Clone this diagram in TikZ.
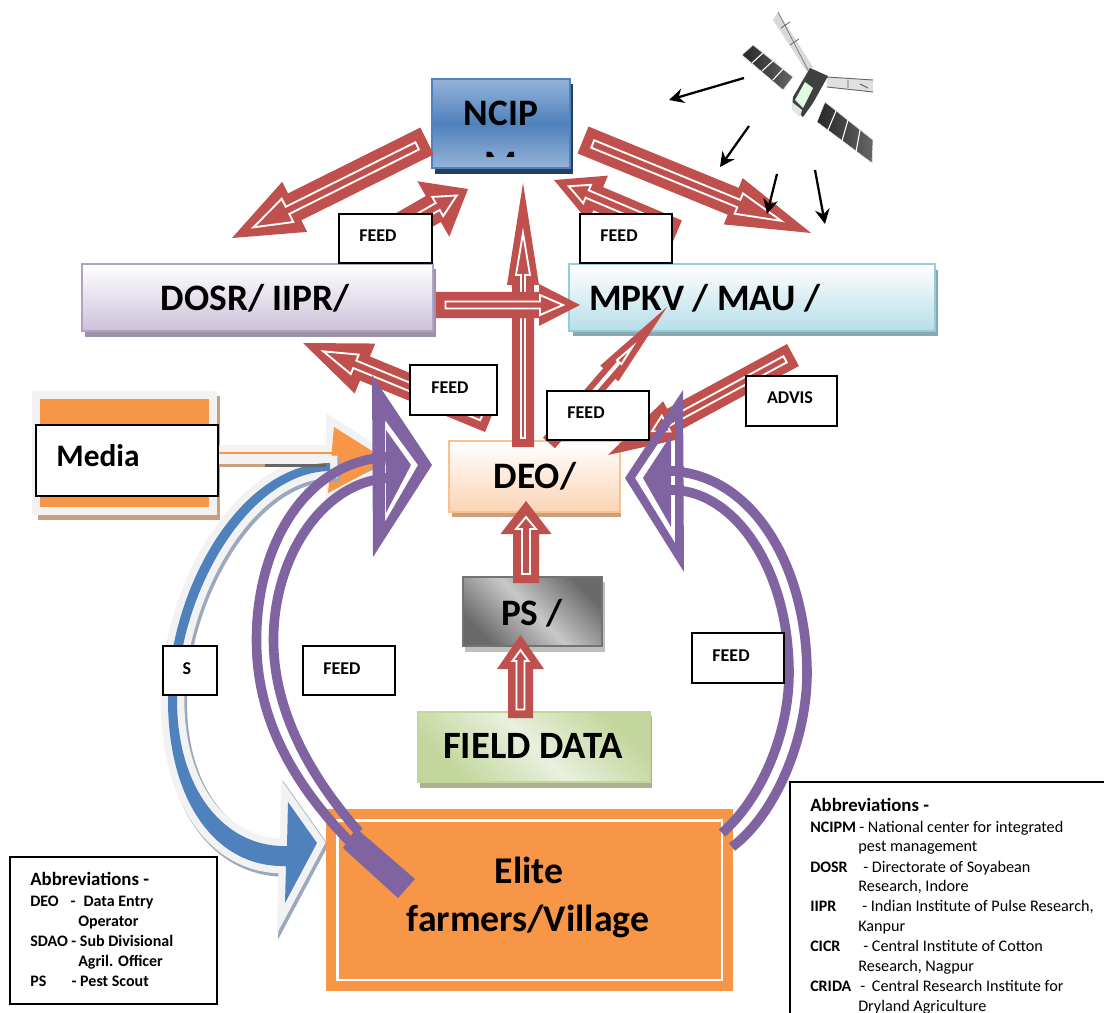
\documentclass[tikz,border=0pt]{standalone}
\usepackage{fontspec}
\setmainfont{Carlito}
\usetikzlibrary{calc,arrows.meta}
\definecolor{redc}{HTML}{C0504D}
\definecolor{purc}{HTML}{8064A2}
\definecolor{bluc}{HTML}{4F81BD}
\definecolor{orac}{HTML}{F79646}
\definecolor{palec}{HTML}{F2F2F2}
\definecolor{brnc}{HTML}{C9A07E}
\definecolor{navyc}{HTML}{244061}
\definecolor{ltbl}{HTML}{95B3D7}
\definecolor{dsh}{HTML}{9C93A8}
\definecolor{dbd}{HTML}{B2A1C7}
\definecolor{dbt}{HTML}{CCC1DA}
\definecolor{msh}{HTML}{8AA8B0}
\definecolor{mbd}{HTML}{92CDDC}
\definecolor{mbt}{HTML}{B7DEE8}
\definecolor{ebd}{HTML}{FAC08F}
\definecolor{ebt}{HTML}{FBD4B4}
\definecolor{fgr}{HTML}{C3D69B}
\definecolor{flt}{HTML}{E9F0DE}
\definecolor{fsh}{HTML}{A9B48E}
\definecolor{bsh}{HTML}{9AA9BB}
\definecolor{psd}{HTML}{6A6A6A}
\definecolor{psl}{HTML}{C8C8C8}
\tikzset{
  big/.style={font=\bfseries\fontsize{28}{30}\selectfont,inner sep=0pt,text=black},
  lbl/.style={draw=black,fill=white,line width=1.5pt},
  lbltext/.style={font=\bfseries\fontsize{13.5}{15}\selectfont,inner sep=0pt},
  abhead/.style={anchor=base west,font=\bfseries\fontsize{14.1}{16}\selectfont,inner sep=0pt},
  abb/.style={anchor=base west,font=\bfseries\fontsize{12}{14}\selectfont,inner sep=0pt},
  abr/.style={anchor=base west,font=\fontsize{12.15}{14}\selectfont,inner sep=0pt},
  band/.style={draw=purc,line width=7.2pt,line cap=butt},
  sat/.style={-{Stealth[length=11pt,width=11pt]},line width=1.7pt,black},
  panel/.style={draw=white,line width=.4pt,left color=black!85,right color=black!60},
}
\newcommand{\bx}[6]{%
  \pgfmathsetmacro\cx{(#3+#5)/2}\pgfmathsetmacro\cy{(#4+#6)/2}%
  \pgfmathsetlengthmacro\bw{(#5-#3)*.75pt}\pgfmathsetlengthmacro\bh{(#6-#4)*.75pt}%
  \node[#1,minimum width=\bw,minimum height=\bh,inner sep=0pt,outer sep=0pt] (#2) at (\cx,\cy) {};}
\newcommand{\rarrow}[9]{%
  \pgfmathsetlengthmacro\Asw{#3*.75pt}\pgfmathsetlengthmacro\Ahw{#4*.75pt}\pgfmathsetlengthmacro\Ahl{#5*.75pt}%
  \pgfmathsetlengthmacro\Bsw{#6*.75pt}\pgfmathsetlengthmacro\Bhw{#7*.75pt}\pgfmathsetlengthmacro\Bit{#8*.75pt}%
  \pgfmathsetlengthmacro\Bhl{#9*.75pt}\pgfmathsetlengthmacro\Bti{(#3-#6)*.75pt}%
  \coordinate (tH) at ($(#2)!\Ahl!(#1)$);
  \coordinate (tA) at ($(#1)!\Bti!(#2)$);
  \coordinate (tT) at ($(#2)!\Bit!(#1)$);
  \coordinate (tI) at ($(tT)!\Bhl!(#1)$);
  \fill[redc] ($(#1)!\Asw!90:(#2)$) -- ($(tH)!\Asw!90:(#2)$) -- ($(tH)!\Ahw!90:(#2)$) -- (#2)
     -- ($(tH)!\Ahw!-90:(#2)$) -- ($(tH)!\Asw!-90:(#2)$) -- ($(#1)!\Asw!-90:(#2)$) -- cycle;
  \draw[white,line width=1.4pt] ($(tA)!\Bsw!90:(#2)$) -- ($(tI)!\Bsw!90:(#2)$) -- ($(tI)!\Bhw!90:(#2)$) -- (tT)
     -- ($(tI)!\Bhw!-90:(#2)$) -- ($(tI)!\Bsw!-90:(#2)$) -- ($(tA)!\Bsw!-90:(#2)$) -- cycle;
}
\begin{document}
\begin{tikzpicture}[x=.75pt,y=-.75pt]
\path[use as bounding box] (0,0) rectangle (1104,1013);
\clip (0,0) rectangle (1104,1013);
\fill[white] (0,0) rectangle (1104,1013);

% Media backing
\fill[brnc] (38,396) rectangle (220,520);
\fill[palec] (32,391) rectangle (217,515);
\fill[orac] (40,399) rectangle (209,507);

% orange arrow
\fill[brnc] (217,447) rectangle (326,467);
\fill[palec] (217,445) -- (326,445) -- (326,413) -- (402,462) -- (326,505) -- (326,464) -- (217,464) -- cycle;
\fill[orac] (217,452) rectangle (334,454);
\fill[orac] (334,427) -- (388,461) -- (328,493) -- cycle;

% blue arrow
\def\bluepath{(330,463) .. controls (240,463) and (168,590) .. (168,700) .. controls (168,800) and (215,868) .. (286,866) -- (285,903) -- (317,843) -- (288,802) -- (287,846) .. controls (225,848) and (177,790) .. (177,700) .. controls (177,600) and (245,472) .. (330,471) -- cycle}
\draw[bsh,line width=12pt,xshift=1.5pt,yshift=-2pt] \bluepath;
\draw[palec,line width=11pt] \bluepath;
\fill[bluc] \bluepath;
\fill[black!60] (265,464) rectangle (326,467);
\fill[brnc] (217,464) rectangle (265,466);

% boxes
\fill[navyc] (435,84) rectangle (573,174);
\bx{draw=bluc,line width=2pt,top color=ltbl,bottom color=ltbl,middle color=bluc}{ncip}{432}{79}{570}{168}
\fill[dsh] (85,269) rectangle (436,337);
\bx{draw=dbd,line width=2.2pt,top color=white,bottom color=dbt}{dosr}{82}{264}{433}{331}
\fill[msh] (573,270) rectangle (938,336);
\bx{draw=mbd,line width=2.2pt,top color=white,bottom color=mbt}{mpkv}{569}{264}{935}{331}
\fill[brnc] (452,445) rectangle (621,517);
\bx{draw=ebd,line width=2.2pt,top color=white,bottom color=ebt}{deo}{449}{441}{620}{512}
\fill[black!25] (465,582) rectangle (605,652);
\bx{draw=black!55,line width=1.8pt,top color=psd,bottom color=psd,middle color=psl,shading angle=-45}{ps}{463}{577}{602}{646}
\fill[fsh] (420,716) rectangle (652,788);
\bx{draw=fgr,line width=2.2pt,top color=fgr,bottom color=fgr,middle color=flt,shading angle=-45}{field}{418}{712}{650}{782}
\bx{fill=orac,draw=none}{elite}{326}{809}{733}{991}
\draw[white,line width=2.2pt] (337.5,820.5) rectangle (722,980);

% box texts
\begin{scope}
\clip (470,150) rectangle (530,157);
\node[big] (ncipM) at (501,164.5) {M};
\end{scope}
\node[big] (ncipT) at (501,113) {NCIP};
\node[big] (dosrT) at (255,298) {DOSR/ IIPR/};
\node[big] (mpkvT) at (705,298) {MPKV / MAU /};
\node[big] (deoT) at (535,476) {DEO/};
\node[big] (psT) at (532,613) {PS /};
\node[big,font=\bfseries\fontsize{29}{30}\selectfont] (fieldT) at (533,746) {FIELD DATA};
\node[big,font=\bfseries\fontsize{28.3}{30}\selectfont] (eliteA) at (529,870) {Elite};
\node[big,font=\bfseries\fontsize{28.3}{30}\selectfont] (eliteB) at (528,921) {farmers/Village};

% red arrows: named ends
\coordinate (r1a) at (427,141);  \coordinate (r1b) at (232,238);
\coordinate (r2a) at (390,234);  \coordinate (r2b) at (468,189);
\coordinate (r3a) at (583,140);  \coordinate (r3b) at (811,233);
\coordinate (r4a) at (677,232);  \coordinate (r4b) at (554,180);
\coordinate (r5a) at (523,447);  \coordinate (r5b) at (523,183);
\coordinate (r6a) at (436,305);  \coordinate (r6b) at (580,305);
\coordinate (r7a) at (490,420);  \coordinate (r7b) at (303,343);
\coordinate (r8a) at (549,443);  \coordinate (r8b) at (667,307);
\coordinate (r9a) at (793,355);  \coordinate (r9b) at (608,455);
\coordinate (r10a) at (526,583); \coordinate (r10b) at (526,501);
\coordinate (r11a) at (520.5,718); \coordinate (r11b) at (520.5,635);

\rarrow{r1a}{r1b}{15}{28}{70}{4}{13}{24}{38}
\rarrow{r2a}{r2b}{15}{32}{40}{4}{11}{13}{22}
\rarrow{r3a}{r3b}{14.5}{25}{84}{4}{11}{32}{46}
\rarrow{r4a}{r4b}{12.5}{25}{48}{4}{10}{16}{20}
\rarrow{r5a}{r5b}{11}{16}{102}{2}{7}{50}{42}
\rarrow{r6a}{r6b}{13}{21}{41}{3.5}{10}{17}{23}
\rarrow{r7a}{r7b}{13}{27}{67}{4}{10.5}{22}{34}
\rarrow{r8a}{r8b}{8}{12}{88}{1}{3}{53}{20}
\rarrow{r9a}{r9b}{12.5}{21}{74}{3.5}{9}{50}{16}
\rarrow{r10a}{r10b}{13}{25.5}{33}{4}{10}{16}{12}
\rarrow{r11a}{r11b}{12.5}{23.5}{34}{4}{8}{15}{11}

% purple right
\draw[band] (671,471) .. controls (755,475) and (807,570) .. (807,673) .. controls (807,740) and (775,815) .. (732,847);
\draw[band] (671,490) .. controls (735,490) and (789,570) .. (789,673) .. controls (789,735) and (760,800) .. (722,833);
\fill[purc,even odd rule] (625,478) -- (683,390) -- (684,572) -- cycle (675,418) -- (635,478) -- (675,543) -- cycle;
\fill[purc] (671,435) -- (643,478) -- (671,527) -- cycle;
\fill[purc] (670,466) rectangle (684,476);
\fill[purc] (670,485) rectangle (684,495);

% purple left
\draw[brnc,line width=1.5pt] (363,473) -- (387,463);
\draw[band] (393,457) .. controls (310,457) and (256.5,540) .. (256.5,640) .. controls (256.5,710) and (285,775) .. (350,842);
\draw[band] (393,478) .. controls (325,478) and (273.5,555) .. (273.5,640) .. controls (273.5,700) and (300,765) .. (359,832);
\fill[purc] (415,879) -- (398,898) -- (343,848) -- (356,828) -- cycle;
\fill[purc,even odd rule] (432,465) -- (372,375) -- (373,557) -- cycle (385,420) -- (418,465) -- (385,522) -- cycle;
\fill[purc] (386,430) -- (411,465) -- (386,513) -- cycle;
\fill[purc] (373,452) rectangle (390,462);
\fill[purc] (373,473) rectangle (390,483);

% satellite
\begin{scope}
\coordinate (satc) at (805,90);
\fill[black!15] (778,12) -- (773,20) -- (807,72) -- (813,67) -- cycle;
\draw[black!55,line width=.5pt] (778,12) -- (808,70);
\draw[black!60,line width=.6pt] (781,28) -- (790,22) (790,45) -- (799,39);
\fill[panel] (742,55) -- (753,45) -- (793,77) -- (783,90) -- cycle;
\draw[white,line width=.8pt] (752,63) -- (763,53) (762,71) -- (773,61) (773,80) -- (783,69);
\fill[panel] (825,102) -- (873,140) -- (872,163) -- (817,122) -- cycle;
\draw[white,line width=.8pt] (836,111) -- (828,130) (848,120) -- (842,141) (860,130) -- (856,152);
\fill[black!12] (827,77) -- (873,80) -- (873,92) -- (827,87) -- cycle;
\draw[black!60,line width=.7pt] (827,77) -- (873,80) (827,87) -- (873,92) (848,80) -- (848,88) (860,84) -- (868,88);
\fill[black!75] (793,97) -- (810,68) -- (828,76) -- (813,103) -- (803,117) -- (792,107) -- cycle;
\fill[black!20!green!12!white] (795,100) -- (805,82) -- (813,88) -- (803,108) -- cycle;
\fill[black!10] (792,102) -- (802,110) -- (800,117) -- (792,110) -- cycle;
\end{scope}
\coordinate (s1a) at (744,78);  \coordinate (s1b) at (669,100);
\coordinate (s2a) at (749,126); \coordinate (s2b) at (720,167);
\coordinate (s3a) at (777,174); \coordinate (s3b) at (767,214);
\coordinate (s4a) at (815,170); \coordinate (s4b) at (825,224);
\draw[sat] (s1a) -- (s1b);
\draw[sat] (s2a) -- (s2b);
\draw[sat] (s3a) -- (s3b);
\draw[sat] (s4a) -- (s4b);

% label boxes
\bx{lbl}{media}{36}{425}{218}{496}
\node[font=\bfseries\fontsize{23.5}{26}\selectfont,inner sep=0pt] (mediaT) at (98,456) {Media};
\bx{lbl}{f1}{339}{214}{432}{263}   \node[lbltext] (f1T) at (378,236) {FEED};
\bx{lbl}{f2}{580}{214}{672}{263}   \node[lbltext] (f2T) at (619,236) {FEED};
\bx{lbl}{f3}{410}{365}{497}{415}   \node[lbltext] (f3T) at (450,388) {FEED};
\bx{lbl}{f4}{547}{391}{649}{440}   \node[lbltext] (f4T) at (586,413) {FEED};
\bx{lbl}{adv}{746}{376}{837}{426}  \node[lbltext] (advT) at (790,398) {ADVIS};
\bx{lbl}{sb}{163}{646}{217}{695}   \node[lbltext] (sbT) at (187,669) {S};
\bx{lbl}{f5}{303}{646}{395}{695}   \node[lbltext] (f5T) at (342,669) {FEED};
\bx{lbl}{f6}{692}{633}{784}{683}   \node[lbltext] (f6T) at (731,656) {FEED};

% left abbreviations
\bx{lbl}{ableft}{10}{857}{217}{1004}
\node[abhead] (la0) at (30,885) {Abbreviations -};
\node[abb] (la1) at (30,906) {DEO\hspace{9pt}-\hspace{6pt}Data Entry};
\node[abb] (la2) at (78,926) {Operator};
\node[abb] (la3) at (30,946) {SDAO - Sub Divisional};
\node[abb] (la4) at (78,966) {Agril. Officer};
\node[abb] (la5) at (30,986) {PS\hspace{19pt}- Pest Scout};

% right abbreviations
\bx{lbl}{abright}{790}{782}{1120}{1030}
\node[abhead] (ra0) at (810,811) {Abbreviations -};
\node[abb] (ra1b) at (810,832) {NCIPM};    \node[abr] (ra1) at (859,832) {- National center for integrated};
\node[abr] (ra2) at (858,851) {pest management};
\node[abb] (ra3b) at (810,872) {DOSR};     \node[abr] (ra3) at (863,872) {- Directorate of Soyabean};
\node[abr] (ra4) at (858,891) {Research, Indore};
\node[abb] (ra5b) at (810,911) {IIPR};     \node[abr] (ra5) at (862,911) {- Indian Institute of Pulse Research,};
\node[abr] (ra6) at (858,931) {Kanpur};
\node[abb] (ra7b) at (810,951) {CICR};     \node[abr] (ra7) at (863,951) {- Central Institute of Cotton};
\node[abr] (ra8) at (858,971) {Research, Nagpur};
\node[abb] (ra9b) at (810,991) {CRIDA};    \node[abr] (ra9) at (860,991) {-\hspace{5pt}Central Research Institute for};
\node[abr] (ra10) at (858,1011) {Dryland Agriculture};
\end{tikzpicture}
\end{document}
